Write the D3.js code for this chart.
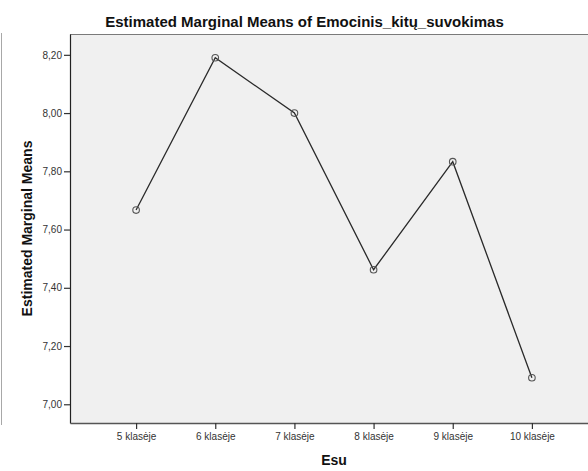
<!DOCTYPE html>
<html>
<head>
<meta charset="utf-8">
<script src="https://cdn.jsdelivr.net/npm/d3@7"></script>
<style>
  body { margin: 0; background: #fff; }
  svg { display: block; font-family: "Liberation Sans", Arial, sans-serif; }
</style>
</head>
<body>
<svg id="chart"></svg>
<script>
// Chart data
const categories = ["5 klasėje", "6 klasėje", "7 klasėje", "8 klasėje", "9 klasėje", "10 klasėje"];
const means = [7.667, 8.19, 8.0, 7.462, 7.833, 7.091];
const yTicks = [7.0, 7.2, 7.4, 7.6, 7.8, 8.0, 8.2];

const width = 588;
const height = 471;
// plot box (right edge runs past the picture, as in the original export)
const plot = { left: 70, top: 34, right: 598, bottom: 423 };

const svg = d3.select("#chart")
    .attr("width", width)
    .attr("height", height);

// outer frame line at the far left
svg.append("line")
    .attr("x1", 1.5).attr("x2", 1.5)
    .attr("y1", 33).attr("y2", 425)
    .attr("stroke", "#a8a8a8")
    .attr("stroke-width", 1);

// plot background
svg.append("rect")
    .attr("x", plot.left)
    .attr("y", plot.top)
    .attr("width", plot.right - plot.left)
    .attr("height", plot.bottom - plot.top)
    .attr("fill", "#f0f0f0");

// top border of the plot
svg.append("line")
    .attr("x1", plot.left).attr("x2", plot.right)
    .attr("y1", plot.top + 0.5).attr("y2", plot.top + 0.5)
    .attr("stroke", "#7a7a7a");

const x = d3.scalePoint()
    .domain(categories)
    .range([plot.left, plot.right])
    .padding(0.835);

const y = d3.scaleLinear()
    .domain([6.9357, 8.2715])
    .range([plot.bottom, plot.top]);

const fmt = v => d3.format(".2f")(v).replace(".", ",");

// y axis
const yAxis = svg.append("g")
    .attr("transform", `translate(${plot.left},0)`)
    .call(d3.axisLeft(y).tickValues(yTicks).tickFormat(fmt)
        .tickSize(6).tickSizeOuter(0).tickPadding(2));
yAxis.select(".domain").attr("stroke", "#222").attr("stroke-width", 1.2);
yAxis.selectAll(".tick line").attr("stroke", "#333").attr("stroke-width", 1.2);
yAxis.selectAll(".tick text").attr("font-size", "10px").attr("fill", "#333")
    .attr("font-family", "Liberation Sans, Arial, sans-serif");

// x axis
const xAxis = svg.append("g")
    .attr("transform", `translate(0,${plot.bottom})`)
    .call(d3.axisBottom(x).tickSize(6).tickSizeOuter(0).tickPadding(4));
xAxis.select(".domain").attr("stroke", "#555").attr("stroke-width", 1.4);
xAxis.selectAll(".tick line").attr("stroke", "#333").attr("stroke-width", 1.2);
xAxis.selectAll(".tick text").attr("font-size", "10px").attr("fill", "#333")
    .attr("font-family", "Liberation Sans, Arial, sans-serif");

// line and markers
const line = d3.line()
    .x((d, i) => x(categories[i]))
    .y(d => y(d));

svg.append("path")
    .datum(means)
    .attr("d", line)
    .attr("fill", "none")
    .attr("stroke", "#2a2a2a")
    .attr("stroke-width", 1.3);

svg.selectAll(".marker")
    .data(means)
    .enter().append("circle")
    .attr("class", "marker")
    .attr("cx", (d, i) => x(categories[i]))
    .attr("cy", d => y(d))
    .attr("r", 3.3)
    .attr("fill", "none")
    .attr("stroke", "#555")
    .attr("stroke-width", 1.1);

// title
svg.append("text")
    .attr("x", 304.5)
    .attr("y", 27)
    .attr("text-anchor", "middle")
    .attr("font-size", "15px")
    .attr("font-weight", "bold")
    .attr("fill", "#111")
    .text("Estimated Marginal Means of Emocinis_kitų_suvokimas");

// y axis title
svg.append("text")
    .attr("transform", `translate(31.5,${(plot.top + plot.bottom) / 2}) rotate(-90)`)
    .attr("text-anchor", "middle")
    .attr("font-size", "14px")
    .attr("font-weight", "bold")
    .attr("fill", "#111")
    .text("Estimated Marginal Means");

// x axis title
svg.append("text")
    .attr("x", (plot.left + plot.right) / 2)
    .attr("y", 465)
    .attr("text-anchor", "middle")
    .attr("font-size", "14px")
    .attr("font-weight", "bold")
    .attr("fill", "#111")
    .text("Esu");
</script>
</body>
</html>
